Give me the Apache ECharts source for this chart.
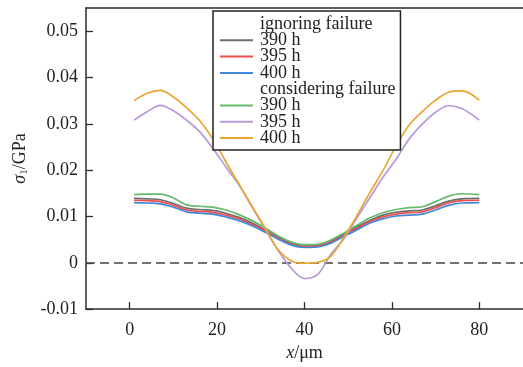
<!DOCTYPE html>
<html><head><meta charset="utf-8">
<script src="https://cdn.jsdelivr.net/npm/echarts@6/dist/echarts.min.js"></script>
<style>html,body{margin:0;padding:0;background:#fff}#c{width:523px;height:367px}</style>
</head><body><div id="c"></div>
<script>
const xValues = [1,4,7,10,13,16,19,22,25,28,31,34,37,40,43,46,49,52,55,58,61,64,67,70,73,76,80];
const ig390 = [0.0139,0.0138,0.0136,0.0128,0.0118,0.0115,0.0113,0.0107,0.0098,0.0086,0.0071,0.0055,0.0042,0.0036,0.0037,0.0046,0.0061,0.0077,0.0092,0.0103,0.0109,0.0112,0.0114,0.0123,0.0133,0.0138,0.0139];
const ig395 = [0.0135,0.0134,0.0132,0.0124,0.0114,0.0111,0.0109,0.0103,0.0095,0.0083,0.0069,0.0053,0.0040,0.0035,0.0036,0.0044,0.0059,0.0074,0.0089,0.0099,0.0105,0.0108,0.0110,0.0119,0.0129,0.0134,0.0135];
const ig400 = [0.0130,0.0129,0.0127,0.0120,0.0110,0.0107,0.0105,0.0099,0.0091,0.0080,0.0066,0.0051,0.0038,0.0033,0.0034,0.0042,0.0057,0.0071,0.0086,0.0095,0.0101,0.0103,0.0105,0.0114,0.0124,0.0129,0.0130];
const co390 = [0.0147,0.0148,0.0148,0.0140,0.0125,0.0122,0.0120,0.0114,0.0104,0.0091,0.0075,0.0058,0.0045,0.0039,0.0040,0.0049,0.0064,0.0081,0.0097,0.0108,0.0115,0.0119,0.0121,0.0132,0.0144,0.0149,0.0147];
const co395 = [0.0308,0.0326,0.0340,0.0328,0.0308,0.0283,0.0247,0.0207,0.0168,0.0120,0.0073,0.0026,-0.0012,-0.0034,-0.0025,0.0018,0.0052,0.0097,0.0141,0.0185,0.0224,0.0268,0.0300,0.0325,0.0339,0.0333,0.0308];
const co400 = [0.0350,0.0366,0.0372,0.0358,0.0335,0.0307,0.0268,0.0218,0.0170,0.0122,0.0075,0.0028,0.0004,-0.0001,0.0001,0.0014,0.0055,0.0102,0.0152,0.0200,0.0253,0.0298,0.0327,0.0351,0.0368,0.0371,0.0351];
const xTicks = [0,20,40,60,80];
const yTicks = [-0.01,0,0.01,0.02,0.03,0.04,0.05];
const legendLabels = {
  'ignoring failure':'ignoring failure','ig390':'390 h','ig395':'395 h','ig400':'400 h',
  'considering failure':'considering failure','co390':'390 h','co395':'395 h','co400':'400 h'
};

const FONT = '"Liberation Serif","Times New Roman",serif';
const AX = '#2b2b2b';
function pairs(arr){ return xValues.map((x,i)=>[x,arr[i]]); }
function mk(name, arr, color){
  return {name, type:'line', data:pairs(arr), symbol:'none', smooth:0.35,
    lineStyle:{color, width:1.7}, itemStyle:{color}, z:3};
}
function dummy(name){
  return {name, type:'line', data:[], symbol:'none',
    lineStyle:{color:'rgba(0,0,0,0)'}, itemStyle:{color:'rgba(0,0,0,0)'}};
}
const series = [
  dummy('ignoring failure'),
  mk('ig390', ig390, '#6d6d6d'),
  mk('ig395', ig395, '#f0504c'),
  mk('ig400', ig400, '#4088d8'),
  dummy('considering failure'),
  mk('co390', co390, '#66bb6a'),
  mk('co395', co395, '#b69ad8'),
  mk('co400', co400, '#e9a630')
];
series[1].markLine = {silent:true, symbol:'none', label:{show:false},
  lineStyle:{color:'#444', width:1.5, type:[9,5]}, data:[{yAxis:0}], z:1};

const chart = echarts.init(document.getElementById('c'), null, {renderer:'canvas'});
chart.setOption({
  animation:false,
  backgroundColor:'#fff',
  textStyle:{fontFamily:FONT},
  grid:{left:86, top:8, width:440, height:309, containLabel:false},
  legend:{
    orient:'vertical', left:213, top:11, z:10,
    data:Object.keys(legendLabels),
    formatter:n=>legendLabels[n],
    itemWidth:33, itemHeight:10, itemGap:-1.7,
    selectedMode:false,
    itemStyle:{opacity:0},
    backgroundColor:'#fff', borderColor:'#222', borderWidth:1.5, borderRadius:0,
    padding:[4,5,3,6],
    textStyle:{fontFamily:FONT, fontSize:18, color:'#222', padding:[0,0,0,2]}
  },
  xAxis:[{
    type:'value', min:-10, max:90,
    name:'{i|x}/μm', nameLocation:'middle', nameGap:30,
    nameTextStyle:{fontFamily:FONT, fontSize:18, color:'#222',
      rich:{i:{fontFamily:FONT, fontSize:18, fontStyle:'italic', color:'#222'}}},
    axisLine:{show:true, onZero:false, lineStyle:{color:AX, width:1.5}},
    axisTick:{show:true, inside:true, length:7, customValues:xTicks, lineStyle:{color:AX, width:1.3}},
    axisLabel:{customValues:xTicks, fontFamily:FONT, fontSize:18, color:'#222', margin:12},
    splitLine:{show:false}
  },{
    type:'value', min:-10, max:90, position:'top',
    axisLine:{show:true, onZero:false, lineStyle:{color:AX, width:1.5}},
    axisTick:{show:false}, axisLabel:{show:false}, splitLine:{show:false}
  }],
  yAxis:{
    type:'value', min:-0.01, max:0.055,
    name:'{s|σ}{b|1}/GPa', nameLocation:'middle', nameGap:55, nameRotate:90,
    nameTextStyle:{fontFamily:FONT, fontSize:18, color:'#222',
      rich:{
        s:{fontFamily:FONT, fontSize:18, fontStyle:'italic', color:'#222'},
        b:{fontFamily:FONT, fontSize:11, color:'#222', padding:[8,0,0,0]}
      }},
    axisLine:{show:true, onZero:false, lineStyle:{color:AX, width:1.5}},
    axisTick:{show:true, inside:true, length:7, customValues:yTicks, lineStyle:{color:AX, width:1.3}},
    axisLabel:{customValues:yTicks, fontFamily:FONT, fontSize:18, color:'#222', margin:8,
      formatter:v=>Math.abs(v)<1e-9?'0':v.toFixed(2)},
    splitLine:{show:false}
  },
  series
});
</script></body></html>
